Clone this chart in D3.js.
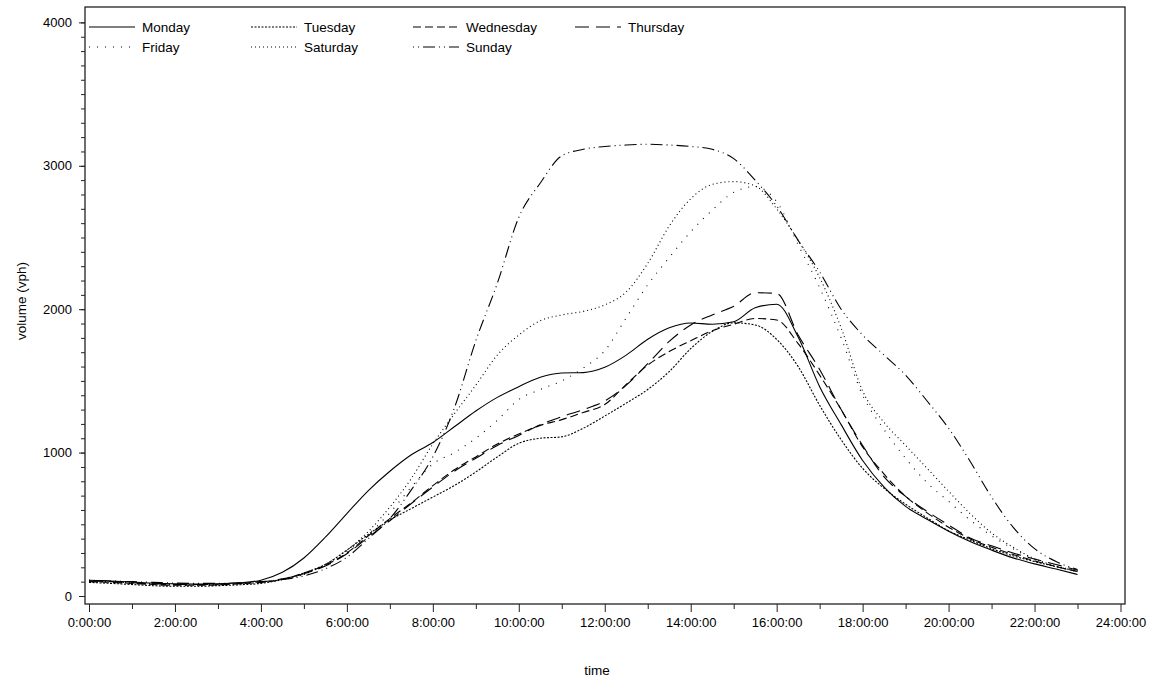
<!DOCTYPE html>
<html>
<head>
<meta charset="utf-8">
<script src="https://cdn.jsdelivr.net/npm/d3@7"></script>
<style>
  html, body { margin: 0; padding: 0; background: #fff; }
  svg text { font-family: 'Liberation Sans', Arial, sans-serif; fill: #000; }
</style>
</head>
<body>
<div id="chart"></div>
<script>
// time of day in hours, one value every half hour
const hours = [0, 0.5, 1, 1.5, 2, 2.5, 3, 3.5, 4, 4.5, 5, 5.5, 6, 6.5, 7, 7.5, 8, 8.5, 9, 9.5,
  10, 10.5, 11, 11.5, 12, 12.5, 13, 13.5, 14, 14.5, 15, 15.5, 16, 16.5, 17, 17.5, 18, 18.5,
  19, 19.5, 20, 20.5, 21, 21.5, 22, 22.5, 23]

// volumes (vph)
const monday = [110, 105, 98, 90, 85, 83, 85, 92, 110, 165, 265, 410, 575, 735, 870, 985, 1070, 1180, 1290, 1385,
  1460, 1525, 1555, 1558, 1595, 1680, 1790, 1870, 1904, 1895, 1912, 2010, 2035, 1806, 1460, 1195, 945, 760,
  625, 535, 452, 380, 320, 266, 224, 188, 150]
const tuesday = [95, 88, 80, 72, 68, 68, 72, 78, 88, 115, 160, 220, 320, 430, 530, 610, 690, 770, 865, 970,
  1065, 1100, 1110, 1170, 1255, 1345, 1440, 1565, 1725, 1845, 1905, 1890, 1790, 1600, 1330, 1090, 890, 750,
  640, 545, 455, 390, 330, 280, 240, 205, 172]
const wednesday = [100, 95, 88, 80, 75, 75, 78, 85, 95, 115, 160, 215, 300, 420, 540, 650, 770, 880, 970, 1060,
  1130, 1190, 1230, 1280, 1335, 1475, 1610, 1705, 1780, 1850, 1895, 1935, 1925, 1760, 1540, 1300, 1040, 850,
  695, 580, 480, 400, 340, 290, 245, 205, 170]
const thursday = [105, 100, 92, 85, 80, 80, 82, 88, 98, 120, 155, 210, 295, 410, 525, 645, 760, 870, 960, 1050,
  1120, 1195, 1250, 1300, 1360, 1470, 1620, 1775, 1890, 1960, 2020, 2115, 2110, 1820, 1580, 1300, 1050, 830,
  695, 590, 495, 405, 350, 300, 258, 220, 180]
const friday = [100, 95, 88, 80, 75, 75, 78, 85, 98, 120, 160, 220, 310, 430, 580, 760, 920, 1000, 1100, 1225,
  1370, 1440, 1500, 1590, 1710, 1940, 2170, 2360, 2540, 2690, 2815, 2855, 2750, 2450, 2150, 1800, 1400, 1160,
  960, 790, 660, 530, 420, 330, 255, 205, 170]
const saturday = [110, 100, 92, 85, 80, 78, 80, 85, 95, 115, 150, 220, 320, 450, 620, 820, 1060, 1270, 1470, 1680,
  1820, 1920, 1960, 1985, 2030, 2120, 2320, 2580, 2770, 2870, 2890, 2860, 2700, 2480, 2220, 1870, 1430, 1210,
  1050, 890, 730, 575, 440, 340, 260, 210, 175]
const sunday = [110, 105, 100, 95, 90, 88, 88, 92, 100, 115, 140, 190, 270, 400, 540, 740, 970, 1310, 1780, 2180,
  2640, 2880, 3070, 3115, 3135, 3145, 3150, 3145, 3135, 3115, 3050, 2900, 2720, 2480, 2260, 2000, 1820, 1680,
  1540, 1360, 1170, 940, 690, 480, 330, 240, 185]

const dayNames = ['Monday', 'Tuesday', 'Wednesday', 'Thursday', 'Friday', 'Saturday', 'Sunday']
const dayValues = [monday, tuesday, wednesday, thursday, friday, saturday, sunday]
const dashes = ['none', '2,1.5', '8,4', '14,7', '1,7', '1,3', '1,4,1,4,12,4']

const xTickHours = [0, 2, 4, 6, 8, 10, 12, 14, 16, 18, 20, 22, 24]
const xTickLabels = ['0:00:00', '2:00:00', '4:00:00', '6:00:00', '8:00:00', '10:00:00', '12:00:00',
  '14:00:00', '16:00:00', '18:00:00', '20:00:00', '22:00:00', '24:00:00']
const xMinorHours = [1, 3, 5, 7, 9, 11, 13, 15, 17, 19, 21, 23]
const yTicks = [0, 1000, 2000, 3000, 4000]

const width = 1151
const height = 683
const frame = { left: 85, right: 1125, top: 7, bottom: 604 }

const svg = d3.select('#chart')
  .append('svg')
  .attr('width', width)
  .attr('height', height)

const x = d3.scaleLinear().domain([0, 24]).range([89, 1120.5])
const y = d3.scaleLinear().domain([0, 4000]).range([596, 22.4])

// Plot frame
svg.append('rect')
  .attr('x', frame.left)
  .attr('y', frame.top)
  .attr('width', frame.right - frame.left)
  .attr('height', frame.bottom - frame.top)
  .style('fill', 'none')
  .style('stroke', '#222')
  .style('stroke-width', 1.3)

// X axis: major ticks with labels, minor ticks on odd hours
const xMajor = svg.append('g')
  .attr('transform', `translate(0,${frame.bottom})`)
  .call(d3.axisBottom(x).tickValues(xTickHours).tickSize(8).tickPadding(6)
    .tickFormat((d, i) => xTickLabels[i]))
xMajor.select('.domain').remove()
xMajor.selectAll('text').style('font-size', '13px')

const xMinor = svg.append('g')
  .attr('transform', `translate(0,${frame.bottom})`)
  .call(d3.axisBottom(x).tickValues(xMinorHours).tickSize(5).tickFormat(''))
xMinor.select('.domain').remove()

// Y axis: major every 1000, minor every 100
const yMajor = svg.append('g')
  .attr('transform', `translate(${frame.left},0)`)
  .call(d3.axisLeft(y).tickValues(yTicks).tickSize(6).tickPadding(7).tickFormat(d3.format('d')))
yMajor.select('.domain').remove()
yMajor.selectAll('text').style('font-size', '13px')

const yMinor = svg.append('g')
  .attr('transform', `translate(${frame.left},0)`)
  .call(d3.axisLeft(y).ticks(40).tickSize(4).tickFormat(''))
yMinor.select('.domain').remove()

svg.selectAll('.tick line').style('stroke', '#222')

// Axis titles
svg.append('text')
  .attr('x', 597)
  .attr('y', 675)
  .attr('text-anchor', 'middle')
  .style('font-size', '13.5px')
  .text('time')

svg.append('text')
  .attr('transform', 'translate(26,301) rotate(-90)')
  .attr('text-anchor', 'middle')
  .style('font-size', '13.5px')
  .text('volume (vph)')

// Series lines
const line = d3.line()
  .x((d, i) => x(hours[i]))
  .y(d => y(d))
  .curve(d3.curveMonotoneX)

const linesGroup = svg.append('g').attr('class', 'lines')
dayValues.forEach((vals, k) => {
  linesGroup.append('path')
    .datum(vals)
    .attr('d', line)
    .style('fill', 'none')
    .style('stroke', '#000')
    .style('stroke-width', 1.1)
    .style('stroke-dasharray', dashes[k])
})

// Legend: two rows of four columns
const legend = svg.append('g').attr('class', 'legend')
dayNames.forEach((name, k) => {
  const col = k % 4
  const row = Math.floor(k / 4)
  const lx = 89 + col * 162
  const ly = 27 + row * 20
  legend.append('line')
    .attr('x1', lx)
    .attr('x2', lx + 46)
    .attr('y1', ly)
    .attr('y2', ly)
    .style('stroke', '#000')
    .style('stroke-width', 1.1)
    .style('stroke-dasharray', dashes[k])
  legend.append('text')
    .attr('x', lx + 53)
    .attr('y', ly)
    .attr('dy', '0.35em')
    .style('font-size', '13.5px')
    .text(name)
})
</script>
</body>
</html>
